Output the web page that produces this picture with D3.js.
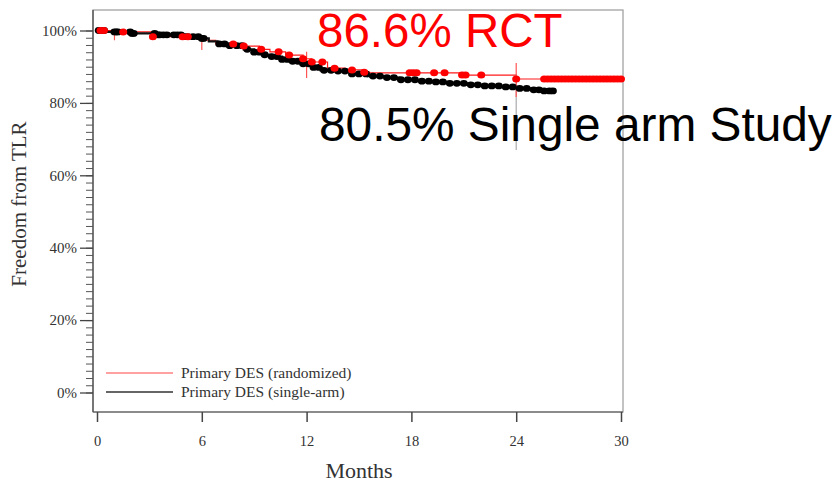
<!DOCTYPE html>
<html><head><meta charset="utf-8">
<script src="https://cdn.jsdelivr.net/npm/d3@7"></script>
<style>html,body{margin:0;padding:0;background:#fff;}svg{display:block;}</style>
</head><body><svg id="c" width="836" height="482"></svg>
<script>
// ---- data ----
const xTicks = [0, 6, 12, 18, 24, 30];
const yTicks = [0, 20, 40, 60, 80, 100];
const seriesNames = ["Primary DES (randomized)", "Primary DES (single-arm)"];
// Kaplan–Meier steps [month, freedom %]
const rctSteps = [[0,100],[1.2,99.6],[3.1,98.3],[6.2,97.3],[6.8,96.3],[8.2,95.7],[9.3,94.8],[9.9,94.1],[10.8,93.2],[11.8,92.2],[12.3,91.3],[13.2,89.6],[14.2,89.1],[15.2,88.5],[15.6,88.3],[20.8,87.7],[24.0,86.6],[30.0,86.6]];
const singleSteps = [[0,100],[0.5,99.6],[2.0,99.2],[3.5,98.8],[5.0,98.3],[6.0,97.8],[6.4,97.0],[6.9,96.3],[7.5,95.8],[8.4,94.8],[9.0,94.0],[9.5,93.3],[10.0,92.8],[10.6,92.0],[11.2,91.5],[11.8,90.8],[12.3,89.8],[12.8,89.0],[13.5,88.8],[14.5,88.0],[15.5,87.4],[16.5,87.0],[17.3,86.4],[18.3,86.0],[19.2,85.8],[20.2,85.4],[21.2,85.0],[22.2,84.7],[23.1,84.4],[24.0,84.0],[25.0,83.6],[25.6,83.3],[26.1,83.3]];
// censor marks (months)
const rctCensor = [0.2,0.4,1.5,3.2,4.9,5.2,7.8,8.4,9.4,10.4,11.0,11.8,12.3,12.9,13.6,14.6,15.3,17.9,18.1,18.3,19.3,19.9,20.9,21.1,22.0,24.0,25.6,25.8,26.0,26.2,26.4,26.6,26.8,27.0,27.2,27.4,27.6,27.8,28.0,28.2,28.4,28.6,28.8,29.0,29.2,29.4,29.6,29.8,30.0];
const singleCensor = [0.1,0.2,0.3,0.4,1.0,1.1,1.2,1.9,2.0,2.1,3.3,3.5,3.6,3.8,4.0,4.4,4.6,4.8,5.0,5.2,5.5,5.8,6.0,6.1,7.0,7.3,7.6,8.0,8.3,8.6,9.0,9.3,9.6,10.0,10.3,10.6,10.9,11.2,11.5,11.8,12.1,12.4,12.7,13.0,13.4,13.8,14.2,14.6,15.0,15.4,15.8,16.2,16.6,17.0,17.4,17.8,18.2,18.6,19.0,19.4,19.8,20.2,20.6,21.0,21.4,21.8,22.2,22.6,23.0,23.4,23.8,24.2,24.6,25.0,25.3,25.6,25.9,26.1];
// confidence bars [month, low %, high %]
const rctBars = [[1,97.3,100],[6,94.6,97.9],[12,86.9,94.1],[24,81.6,91.0]];
const singleBars = [[24,67.0,88.0]];
const annotations = ["86.6% RCT", "80.5% Single arm Study"];

// ---- chart ----
const svg = d3.select("#c");
const x = d3.scaleLinear().domain([0,30]).range([97,621]);
const y = d3.scaleLinear().domain([0,100]).range([392.5,30.5]);
const serif = "'Liberation Serif','Times New Roman',serif";

// frame
svg.append("rect").attr("x",93).attr("y",10).attr("width",530).attr("height",402)
  .attr("fill","none").attr("stroke","#9a9a9a").attr("stroke-width",1.2);
svg.append("line").attr("x1",93).attr("x2",93).attr("y1",10).attr("y2",412).attr("stroke","#444").attr("stroke-width",1.2);
svg.append("line").attr("x1",93).attr("x2",623).attr("y1",412).attr("y2",412).attr("stroke","#555").attr("stroke-width",1.2);

// y axis minor + major
const yMinor = d3.axisLeft(y).tickValues(d3.range(0,101,2)).tickSize(7).tickFormat("");
svg.append("g").attr("transform","translate(93,0)").call(yMinor)
  .call(g=>g.select(".domain").remove())
  .call(g=>g.selectAll("line").attr("stroke","#555"));
const yAxis = d3.axisLeft(y).tickValues(yTicks).tickSize(13).tickPadding(3).tickFormat(d=>d+"%");
svg.append("g").attr("transform","translate(93,0)").call(yAxis)
  .call(g=>g.select(".domain").remove())
  .call(g=>g.selectAll("line").attr("stroke","#444").attr("stroke-width",1.3))
  .call(g=>g.selectAll("text").attr("font-family",serif).attr("font-size",15).attr("fill","#333"));

// x axis
const xAxis = d3.axisBottom(x).tickValues(xTicks).tickSize(10).tickPadding(14);
svg.append("g").attr("transform","translate(0,412)").call(xAxis)
  .call(g=>g.select(".domain").remove())
  .call(g=>g.selectAll("line").attr("stroke","#444").attr("stroke-width",1.5))
  .call(g=>g.selectAll("text").attr("font-family",serif).attr("font-size",14.5).attr("fill","#333"));

svg.append("text").attr("x",359).attr("y",478).attr("text-anchor","middle")
  .attr("font-family",serif).attr("font-size",22).attr("fill","#333").text("Months");
svg.append("text").attr("transform","translate(26,204) rotate(-90)").attr("text-anchor","middle")
  .attr("font-family",serif).attr("font-size",21).attr("fill","#333").text("Freedom from TLR");

// curves
const line = d3.line().x(d=>x(d[0])).y(d=>y(d[1])).curve(d3.curveStepAfter);
function valAt(steps,t){let v=steps[0][1];for(const s of steps){if(s[0]<=t+1e-9)v=s[1];}return v;}

svg.append("path").datum(rctSteps).attr("d",line).attr("fill","none").attr("stroke","#ff1a1a").attr("stroke-width",1.2);
svg.append("path").datum(singleSteps).attr("d",line).attr("fill","none").attr("stroke","#111").attr("stroke-width",2.2);

// bars
svg.append("g").selectAll("line").data(singleBars).join("line")
  .attr("x1",d=>x(d[0])).attr("x2",d=>x(d[0])).attr("y1",d=>y(d[1])).attr("y2",d=>y(d[2]))
  .attr("stroke","#aaa").attr("stroke-width",1.2);
svg.append("g").selectAll("line").data(rctBars).join("line")
  .attr("x1",d=>x(d[0])).attr("x2",d=>x(d[0])).attr("y1",d=>y(d[1])).attr("y2",d=>y(d[2]))
  .attr("stroke","#ff5555").attr("stroke-width",1.2);

// censor marks
svg.append("g").selectAll("ellipse").data(singleCensor).join("ellipse")
  .attr("cx",d=>x(d)).attr("cy",d=>y(valAt(singleSteps,d))).attr("rx",4).attr("ry",3.4).attr("fill","#000");
svg.append("g").selectAll("ellipse").data(rctCensor).join("ellipse")
  .attr("cx",d=>x(d)).attr("cy",d=>y(valAt(rctSteps,d))).attr("rx",4).attr("ry",3.5).attr("fill","#ff0000");

// legend
const lg = svg.append("g");
[["#ff4444",1.2],["#333",1.4]].forEach((s,i)=>{
  lg.append("line").attr("x1",106).attr("x2",173).attr("y1",373+i*19).attr("y2",373+i*19).attr("stroke",s[0]).attr("stroke-width",s[1]);
  lg.append("text").attr("x",181).attr("y",378+i*19).attr("font-family",serif).attr("font-size",15.5).attr("fill","#333").text(seriesNames[i]);
});

// annotations
svg.append("text").attr("x",317).attr("y",47).attr("font-family","'Liberation Sans',Arial,sans-serif")
  .attr("font-size",47.5).attr("fill","#ff0000").text(annotations[0]);
svg.append("text").attr("x",319).attr("y",141).attr("font-family","'Liberation Sans',Arial,sans-serif")
  .attr("font-size",47.8).attr("fill","#000").text(annotations[1]);
</script></body></html>
